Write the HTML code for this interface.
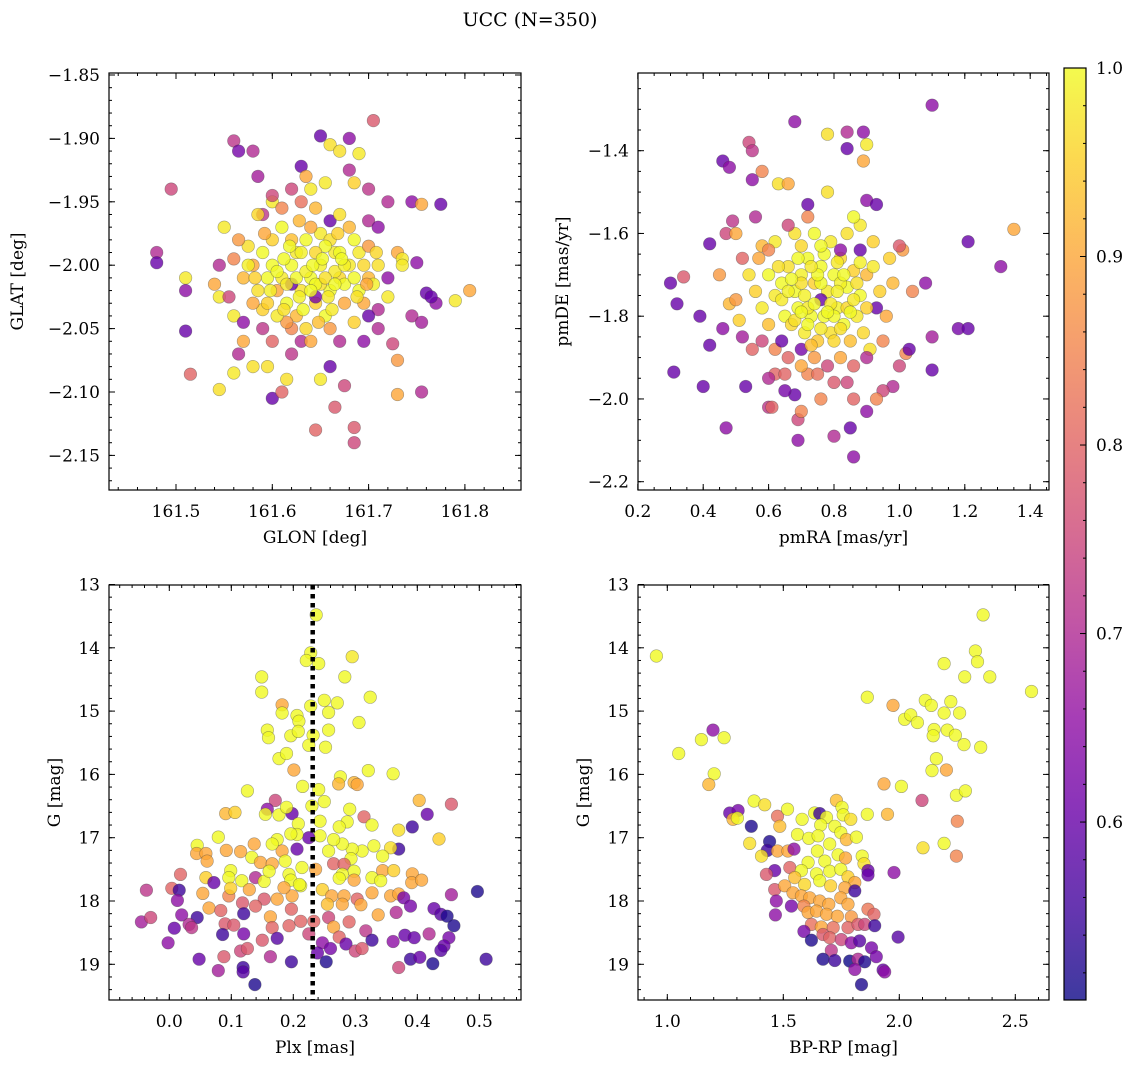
<!DOCTYPE html>
<html><head><meta charset="utf-8"><style>
html,body{margin:0;padding:0;background:#fff}
svg{display:block}
text{font-family:"DejaVu Serif","Liberation Serif",serif;fill:#000}
</style></head><body>
<svg id="fig" width="1136" height="1068" viewBox="0 0 1136 1068" xmlns="http://www.w3.org/2000/svg">
<text x="530" y="26" font-size="19" text-anchor="middle">UCC (N=350)</text>
<defs><linearGradient id="plasmaGrad" x1="0" y1="1" x2="0" y2="0"></linearGradient></defs>
</svg>
<script>
// ---- data ----
const glonGlat = [[161.495,-1.94,0.75],[161.48,-1.99,0.7],[161.48,-1.998,0.6],[161.51,-2.01,0.98],[161.51,-2.052,0.6],[161.51,-2.02,0.65],[161.515,-2.086,0.8],[161.545,-2.098,0.97],[161.56,-1.902,0.72],[161.565,-1.91,0.62],[161.58,-1.91,0.7],[161.54,-2.015,0.9],[161.545,-2.025,0.98],[161.55,-1.97,0.98],[161.56,-2.04,0.98],[161.56,-2.085,0.98],[161.565,-2.07,0.7],[161.58,-2.08,0.97],[161.585,-1.93,0.68],[161.59,-1.96,0.72],[161.58,-2.0,0.9],[161.6,-1.95,0.98],[161.6,-2.105,0.6],[161.61,-2.1,0.8],[161.615,-2.09,0.97],[161.62,-1.94,0.75],[161.63,-1.922,0.6],[161.635,-1.93,0.9],[161.65,-1.898,0.6],[161.66,-1.905,0.97],[161.67,-1.91,0.97],[161.68,-1.9,0.65],[161.69,-1.912,0.98],[161.705,-1.886,0.78],[161.68,-1.925,0.7],[161.685,-1.935,0.95],[161.7,-1.94,0.72],[161.72,-1.95,0.7],[161.745,-1.95,0.65],[161.755,-1.952,0.9],[161.775,-1.952,0.6],[161.65,-1.975,0.98],[161.66,-1.965,0.6],[161.67,-1.96,0.97],[161.64,-1.94,0.98],[161.645,-1.955,0.92],[161.655,-1.935,0.98],[161.73,-1.99,0.9],[161.735,-1.995,0.98],[161.735,-2.0,0.98],[161.75,-1.998,0.65],[161.76,-2.022,0.6],[161.77,-2.03,0.65],[161.765,-2.025,0.6],[161.79,-2.028,0.98],[161.805,-2.02,0.9],[161.72,-2.025,0.98],[161.71,-2.035,0.7],[161.7,-2.04,0.6],[161.695,-2.06,0.65],[161.725,-2.062,0.75],[161.745,-2.04,0.7],[161.755,-2.045,0.68],[161.73,-2.075,0.88],[161.755,-2.1,0.7],[161.73,-2.102,0.9],[161.675,-2.095,0.75],[161.665,-2.112,0.78],[161.685,-2.128,0.78],[161.685,-2.14,0.75],[161.645,-2.13,0.8],[161.65,-2.09,0.98],[161.66,-2.08,0.6],[161.63,-2.06,0.7],[161.62,-2.05,0.85],[161.6,-2.06,0.8],[161.595,-2.08,0.97],[161.57,-2.06,0.9],[161.59,-2.035,0.95],
[161.6,-2.0,1],[161.61,-2.01,0.98],[161.62,-2.0,1],[161.63,-2.02,0.97],[161.64,-2.01,1],[161.65,-2.0,0.99],[161.66,-2.02,1],[161.67,-2.01,0.96],[161.68,-2.0,0.98],[161.69,-2.02,1],[161.7,-2.01,0.92],[161.605,-2.02,0.9],[161.615,-2.03,1],[161.625,-1.99,0.98],[161.635,-1.98,1],[161.645,-2.03,0.95],[161.655,-2.04,1],[161.665,-1.99,0.98],[161.675,-2.03,0.9],[161.685,-1.98,1],[161.595,-2.01,1],[161.585,-2.02,0.97],[161.575,-2.0,0.99],[161.59,-1.99,1],[161.6,-1.98,0.95],[161.61,-1.97,1],[161.62,-1.98,0.93],[161.63,-1.99,0.99],[161.64,-1.97,0.9],[161.66,-1.98,0.97],[161.67,-1.99,1],[161.68,-1.97,0.92],[161.69,-1.99,0.98],[161.7,-1.985,0.88],[161.71,-2.0,0.97],[161.705,-2.015,0.99],[161.695,-2.03,0.9],[161.625,-2.04,0.92],[161.635,-2.05,0.96],[161.615,-2.045,0.88],[161.605,-2.04,0.98],[161.595,-2.03,0.95],[161.58,-2.03,0.9],[161.57,-2.01,0.92],[161.575,-1.985,0.97],[161.565,-1.98,0.88],[161.56,-1.995,0.85],[161.65,-2.015,0.97],[161.655,-1.985,1],[161.645,-1.99,0.96],[161.665,-2.005,0.98],[161.675,-2.015,1],[161.685,-2.045,0.95],[161.66,-2.05,0.88],[161.64,-2.06,0.9],[161.62,-2.07,0.72],[161.67,-2.06,0.7],[161.7,-1.965,0.7],[161.71,-1.97,0.65],[161.61,-1.955,0.85],[161.6,-1.945,0.75],[161.63,-1.95,0.82],[161.585,-1.96,0.96],[161.555,-2.025,0.75],[161.545,-2.0,0.7],[161.71,-2.05,0.7],[161.72,-2.01,0.65],[161.62,-2.015,0.6],[161.645,-2.025,0.62],[161.59,-2.05,0.72],[161.57,-2.045,0.65],
[161.605,-2.005,1],[161.615,-2.015,0.98],[161.625,-2.01,1],[161.635,-2.005,0.99],[161.645,-2.015,1],[161.655,-2.01,0.97],[161.665,-2.015,1],[161.675,-2.0,0.99],[161.685,-2.01,1],[161.695,-2.0,0.96],[161.612,-1.995,1],[161.628,-2.025,0.99],[161.642,-2.0,1],[161.658,-2.025,0.98],[161.672,-1.995,1],[161.688,-2.025,0.97],[161.598,-2.02,0.99],[161.618,-1.985,1],[161.652,-1.995,1],[161.662,-2.035,0.98],[161.632,-2.035,1],[161.612,-2.035,0.97],[161.592,-1.975,0.9],[161.668,-1.975,0.95],[161.648,-2.045,0.93],[161.628,-1.965,0.92],[161.698,-2.015,0.9],[161.582,-2.01,0.95],[161.708,-1.99,0.96],[161.64,-2.02,1]];

const pmraPmde = [[0.3,-1.72,0.6],[0.32,-1.77,0.6],[0.31,-1.935,0.6],[0.34,-1.705,0.78],[0.39,-1.8,0.6],[0.42,-1.625,0.6],[0.42,-1.87,0.6],[0.4,-1.97,0.6],[0.46,-1.425,0.6],[0.47,-1.6,0.75],[0.48,-1.44,0.65],[0.45,-1.7,0.88],[0.46,-1.83,0.65],[0.47,-2.07,0.65],[0.48,-1.77,0.92],[0.49,-1.57,0.72],[0.51,-1.81,0.95],[0.52,-1.85,0.68],[0.53,-1.97,0.6],[0.54,-1.38,0.75],[0.55,-1.4,0.72],[0.55,-1.47,0.65],[0.56,-1.56,0.7],[0.58,-1.45,0.85],[0.58,-1.63,0.92],[0.6,-2.02,0.72],[0.61,-2.02,0.8],[0.62,-1.94,0.8],[0.63,-1.48,0.97],[0.66,-1.48,0.9],[0.68,-1.33,0.65],[0.69,-2.05,0.75],[0.7,-2.03,0.85],[0.69,-2.1,0.65],[0.68,-1.99,0.6],[0.72,-1.53,0.6],[0.78,-1.36,0.97],[0.84,-1.355,0.7],[0.84,-1.395,0.6],[0.89,-1.355,0.65],[0.9,-1.385,0.98],[0.89,-1.425,0.9],[0.9,-1.52,0.65],[0.93,-1.53,0.6],[1.1,-1.29,0.65],[1.21,-1.62,0.6],[1.18,-1.83,0.62],[1.21,-1.83,0.6],[1.31,-1.68,0.65],[1.35,-1.59,0.9],[1.1,-1.93,0.6],[1.1,-1.85,0.68],[1.08,-1.72,0.65],[1.04,-1.74,0.85],[1.01,-1.64,0.88],[1.0,-1.63,0.78],[1.02,-1.89,0.85],[1.03,-1.88,0.6],[1.0,-1.92,0.75],[0.98,-1.97,0.7],[0.95,-1.98,0.75],[0.93,-2.0,0.85],[0.9,-2.03,0.65],[0.86,-2.0,0.8],[0.85,-2.07,0.6],[0.86,-2.14,0.65],[0.8,-2.09,0.7],[0.76,-2.0,0.85],[0.84,-1.96,0.75],[0.72,-1.94,0.85],[0.65,-1.94,0.8],[0.6,-1.95,0.7],
[0.6,-1.7,1],[0.62,-1.75,0.98],[0.64,-1.72,1],[0.66,-1.68,0.97],[0.68,-1.74,1],[0.7,-1.7,0.99],[0.72,-1.66,1],[0.74,-1.72,0.95],[0.76,-1.68,1],[0.78,-1.74,0.98],[0.8,-1.7,1],[0.82,-1.66,0.96],[0.84,-1.73,1],[0.86,-1.69,0.95],[0.88,-1.75,1],[0.9,-1.7,0.92],[0.92,-1.68,0.98],[0.94,-1.74,0.95],[0.65,-1.8,1],[0.67,-1.82,0.96],[0.69,-1.78,1],[0.71,-1.84,0.98],[0.73,-1.8,1],[0.75,-1.86,0.94],[0.77,-1.8,1],[0.79,-1.84,0.97],[0.81,-1.78,0.99],[0.83,-1.82,1],[0.85,-1.86,0.93],[0.87,-1.8,0.98],[0.89,-1.84,0.96],[0.91,-1.88,0.97],[0.6,-1.82,0.93],[0.58,-1.78,0.98],[0.56,-1.74,0.95],[0.54,-1.7,0.97],[0.57,-1.66,0.9],[0.62,-1.62,0.98],[0.68,-1.6,0.97],[0.74,-1.6,1],[0.79,-1.62,0.98],[0.84,-1.6,0.97],[0.88,-1.58,0.98],[0.92,-1.62,0.95],[0.86,-1.56,1],[0.78,-1.5,0.97],[0.72,-1.56,0.85],[0.66,-1.58,0.75],[0.62,-1.88,0.85],[0.66,-1.9,0.8],[0.7,-1.92,0.9],[0.74,-1.9,0.88],[0.78,-1.92,0.75],[0.82,-1.9,0.9],[0.86,-1.92,0.8],[0.9,-1.9,0.7],[0.95,-1.86,0.85],[0.96,-1.8,0.9],[0.98,-1.72,0.92],[0.97,-1.66,0.95],[0.5,-1.76,0.88],[0.52,-1.66,0.8],[0.5,-1.6,0.9],[0.55,-1.88,0.8],[0.58,-1.86,0.75],[0.64,-1.86,0.6],[0.7,-1.88,0.62],[0.76,-1.76,0.6],[0.82,-1.64,0.65],[0.88,-1.64,0.6],[0.93,-1.78,0.6],[0.6,-1.64,0.85],[0.75,-1.94,0.82],[0.8,-1.96,0.78],[0.65,-1.98,0.62],[0.7,-1.72,0.97],[0.76,-1.72,1],[0.82,-1.72,0.99],[0.72,-1.78,0.98],[0.8,-1.8,1],[0.84,-1.78,0.96],[0.64,-1.76,0.98],
[0.67,-1.71,1],[0.71,-1.75,0.99],[0.75,-1.7,1],[0.79,-1.77,0.98],[0.83,-1.7,1],[0.87,-1.72,0.97],[0.69,-1.66,1],[0.73,-1.68,0.98],[0.77,-1.65,1],[0.81,-1.74,0.99],[0.85,-1.79,1],[0.68,-1.81,0.97],[0.72,-1.82,1],[0.76,-1.83,0.98],[0.8,-1.86,0.96],[0.74,-1.77,1],[0.78,-1.79,1],[0.82,-1.83,0.97],[0.66,-1.74,0.99],[0.7,-1.79,1],[0.86,-1.76,0.98],[0.9,-1.78,0.95],[0.63,-1.68,0.97],[0.88,-1.67,0.99],[0.7,-1.63,0.96],[0.76,-1.63,1],[0.81,-1.67,0.98],[0.73,-1.87,0.93]];

const plxG = [[0.237,13.48,1],[0.228,14.08,1],[0.221,14.2,1],[0.241,14.25,1],[0.295,14.14,0.98],[0.283,14.46,1],[0.149,14.46,1],[0.149,14.7,1],[0.182,14.9,0.9],[0.182,15.03,1],[0.206,15.07,1],[0.209,15.16,1],[0.228,14.92,1],[0.25,14.83,1],[0.271,14.87,1],[0.257,15.02,1],[0.324,14.78,1],[0.306,15.18,1],[0.257,15.3,1],[0.158,15.3,1],[0.16,15.42,1],[0.196,15.39,1],[0.208,15.32,1],[0.232,15.38,1],[0.225,15.54,1],[0.252,15.57,1],[0.177,15.75,1],[0.189,15.67,1],[0.201,15.93,0.9],[0.276,16.04,1],[0.273,16.15,0.92],[0.298,16.13,0.92],[0.303,16.16,0.9],[0.321,15.94,1],[0.361,15.99,1],[0.215,16.19,1],[0.241,16.24,1],[0.126,16.26,1],[0.171,16.41,0.75],[0.158,16.55,0.65],[0.198,16.62,0.6],[0.25,16.43,1],[0.23,16.5,1],[0.091,16.62,0.92],[0.106,16.6,0.95],[0.155,16.63,1],[0.177,16.64,1],[0.189,16.52,1],[0.291,16.55,1],[0.314,16.67,0.8],[0.327,16.8,1],[0.287,16.75,1],[0.274,16.83,1],[0.208,16.78,1],[0.243,16.74,1],[0.403,16.41,0.92],[0.455,16.47,0.78],[0.416,16.63,0.6],[0.392,16.83,0.55],[0.37,16.88,0.97],[0.435,17.02,0.95],[0.37,17.18,0.55],[0.357,17.16,0.97],[0.344,17.29,1],[0.33,17.13,1],[0.311,17.21,1],[0.295,17.18,1],[0.279,17.1,1],[0.265,17.03,1],[0.243,16.97,1],[0.225,17.0,0.6],[0.206,16.95,1],[0.196,16.94,1],[0.174,17.03,1],[0.182,17.21,0.9],[0.166,17.1,1],[0.206,17.18,0.6],[0.257,17.21,1],[0.293,17.33,1],[0.079,16.99,1],[0.045,17.12,1],[0.044,17.25,0.9],[0.059,17.25,0.9],[0.061,17.37,0.9],[0.092,17.2,0.9],[0.137,17.1,0.9],[0.115,17.22,0.9],[0.133,17.31,1],[0.147,17.39,0.9],[0.166,17.41,0.9],[0.187,17.37,1],[0.214,17.47,1],[0.236,17.5,0.9],[0.265,17.41,0.8],[0.282,17.42,0.8],[0.298,17.53,1],[0.279,17.58,1],[0.274,17.64,1],[0.298,17.67,0.9],[0.327,17.63,1],[0.344,17.52,0.9],[0.362,17.52,0.95],[0.341,17.68,1],[0.392,17.57,0.9],[0.391,17.71,0.9],[0.407,17.67,0.9],[0.099,17.52,1],[0.096,17.63,1],[0.117,17.68,1],[0.139,17.63,0.7],[0.153,17.69,1],[0.161,17.53,1],[0.193,17.58,1],[0.196,17.67,1],[0.212,17.76,1],[0.059,17.63,0.95],[0.072,17.71,0.6],[0.018,17.58,0.8],[-0.037,17.83,0.72],[0.004,17.8,0.8],[0.016,17.83,0.55],[0.013,17.99,0.65],[0.054,17.88,0.9],[0.096,17.92,0.85],[0.118,18.03,0.78],[0.099,17.8,0.95],[0.129,17.82,0.9],[0.153,17.97,0.78],[0.174,17.97,0.9],[0.198,17.92,0.9],[0.185,17.79,0.9],[0.21,17.74,1],[0.247,17.82,0.95],[0.262,17.92,0.9],[0.282,17.92,0.9],[0.303,17.97,0.8],[0.327,17.87,0.9],[0.357,17.92,0.9],[0.37,17.89,0.9],[0.378,17.95,0.62],[0.389,18.08,0.62],[0.455,17.9,0.68],[0.497,17.85,0.52],[0.064,18.11,0.9],[0.083,18.15,0.8],[0.12,18.2,0.55],[0.139,18.08,0.8],[0.197,18.13,0.8],[0.255,18.05,0.93],[0.279,18.05,0.9],[0.309,18.06,0.9],[0.337,18.22,0.9],[0.366,18.18,0.7],[0.427,18.12,0.6],[0.438,18.21,0.58],[0.448,18.24,0.52],[0.459,18.39,0.52],[-0.045,18.33,0.68],[-0.03,18.26,0.75],[0.02,18.22,0.65],[0.045,18.26,0.55],[0.032,18.37,0.7],[0.008,18.43,0.6],[-0.002,18.66,0.65],[0.036,18.42,0.72],[0.09,18.36,0.78],[0.104,18.38,0.78],[0.086,18.53,0.55],[0.12,18.52,0.62],[0.163,18.25,0.9],[0.166,18.42,0.8],[0.193,18.39,0.8],[0.212,18.32,0.8],[0.233,18.32,0.8],[0.257,18.26,0.75],[0.265,18.41,0.9],[0.29,18.33,0.8],[0.317,18.47,0.72],[0.15,18.62,0.78],[0.174,18.59,0.58],[0.225,18.52,0.75],[0.247,18.66,0.65],[0.274,18.57,0.8],[0.285,18.68,0.6],[0.3,18.79,0.75],[0.311,18.75,0.78],[0.327,18.62,0.55],[0.361,18.64,0.65],[0.38,18.54,0.6],[0.395,18.58,0.6],[0.419,18.52,0.7],[0.451,18.58,0.62],[0.443,18.71,0.6],[0.438,18.78,0.58],[0.239,18.82,0.6],[0.26,18.75,0.62],[0.115,18.79,0.75],[0.126,18.75,0.78],[0.088,18.88,0.78],[0.048,18.92,0.6],[0.163,18.88,0.7],[0.197,18.96,0.55],[0.253,18.96,0.52],[0.37,19.05,0.75],[0.389,18.92,0.55],[0.404,18.89,0.6],[0.425,18.99,0.52],[0.511,18.92,0.55],[0.079,19.1,0.68],[0.119,19.05,0.55],[0.119,19.12,0.58],[0.138,19.32,0.52]];

const bprpG = [[0.953,14.13,1],[1.049,15.67,1],[1.147,15.45,1],[1.197,15.3,0.65],[1.245,15.42,1],[1.202,15.99,1],[1.179,16.16,0.92],[1.374,16.42,1],[1.42,16.48,0.97],[1.269,16.61,0.6],[1.305,16.57,0.62],[1.283,16.71,0.92],[1.302,16.69,1],[1.362,16.82,0.52],[1.475,16.66,0.82],[1.485,16.82,0.93],[1.518,16.55,1],[1.355,17.09,0.97],[1.441,17.06,0.52],[1.431,17.2,0.55],[1.475,17.21,0.9],[1.406,17.29,0.97],[1.52,17.21,0.9],[1.546,17.18,0.65],[1.463,17.52,0.6],[1.427,17.58,0.78],[1.463,17.82,0.78],[1.506,17.76,0.9],[1.528,17.47,0.8],[1.47,18.0,0.65],[1.535,18.08,0.62],[1.466,18.22,0.65],
[1.581,16.71,1],[1.635,16.61,1],[1.657,16.62,0.55],[1.686,16.68,1],[1.729,16.41,0.93],[1.753,16.52,1],[1.758,16.64,1],[1.791,16.71,0.97],[1.661,16.8,1],[1.722,16.82,1],[1.561,16.95,1],[1.61,17.01,1],[1.65,16.97,1],[1.7,17.1,1],[1.748,16.92,1],[1.772,17.03,0.92],[1.815,16.99,1],[1.862,16.63,1],[1.949,16.63,0.92],[1.647,17.21,1],[1.607,17.39,1],[1.679,17.37,1],[1.736,17.27,1],[1.768,17.32,0.9],[1.84,17.29,1],[1.848,17.41,0.97],[1.865,17.52,0.6],[1.865,17.59,0.6],[1.977,17.55,0.65],[1.578,17.52,1],[1.643,17.57,1],[1.7,17.53,1],[1.748,17.5,1],[1.779,17.62,0.95],[1.808,17.71,0.9],[1.549,17.63,0.93],[1.592,17.74,0.96],[1.657,17.68,1],[1.704,17.76,0.95],[1.765,17.79,0.9],[1.808,17.84,0.55],[1.542,17.87,0.9],[1.578,17.92,0.9],[1.614,17.95,0.9],[1.657,18.0,0.9],[1.696,18.05,0.9],[1.748,17.95,0.9],[1.779,18.05,0.9],[1.589,18.08,0.85],[1.607,18.18,0.9],[1.643,18.16,0.9],[1.686,18.21,0.9],[1.733,18.24,0.9],[1.793,18.25,0.88],[1.865,18.13,0.83],[1.891,18.21,0.8],[1.621,18.37,0.82],[1.664,18.41,0.9],[1.715,18.42,0.82],[1.779,18.42,0.8],[1.822,18.37,0.78],[1.851,18.37,0.75],[1.894,18.39,0.55],[1.589,18.48,0.62],[1.621,18.62,0.52],[1.671,18.53,0.78],[1.7,18.58,0.8],[1.75,18.61,0.75],[1.793,18.66,0.65],[1.829,18.63,0.58],[1.88,18.74,0.62],[1.995,18.57,0.58],[1.707,18.78,0.72],[1.671,18.92,0.52],[1.722,18.94,0.55],[1.786,18.95,0.5],[1.822,18.92,0.7],[1.851,18.96,0.52],[1.901,18.88,0.62],[1.808,19.08,0.65],[1.93,19.09,0.6],[1.937,19.12,0.65],[1.837,19.32,0.52],
[1.862,14.78,1],[1.973,14.91,0.9],[2.023,15.13,1],[2.049,15.06,1],[2.078,15.18,1],[2.112,14.83,1],[2.138,14.91,1],[2.193,14.25,1],[2.222,14.85,1],[2.193,15.03,1],[2.26,15.03,1],[2.15,15.29,1],[2.146,15.39,1],[2.207,15.3,1],[2.242,15.38,1],[2.279,15.53,1],[2.351,15.57,1],[2.16,15.75,1],[2.141,15.94,1],[2.203,15.93,0.9],[2.328,14.05,1],[2.337,14.22,1],[2.282,14.46,1],[2.39,14.46,1],[2.361,13.48,1],[2.57,14.69,1],[1.934,16.15,0.9],[2.009,16.19,1],[2.098,16.41,0.75],[2.246,16.33,1],[2.285,16.26,1],[2.25,16.74,0.85],[2.102,17.16,0.97],[2.193,17.09,1],[2.246,17.29,0.85]];

const plxCut = [0.2313];
const cbarTicks = [0.6, 0.7, 0.8, 0.9, 1.0];
const cbarRange = [0.5056, 1.0];

// ---- plasma colormap ----
const plasmaStops = ["#0d0887","#41049d","#6a00a8","#8f0da4","#b12a90","#cc4778","#e16462","#f2844b","#fca636","#fcce25","#f0f921"];
function hex(h){return [1,3,5].map(i=>parseInt(h.substr(i,2),16));}
function plasma(t){
  t=Math.max(0,Math.min(1,t));
  const f=t*10, i=Math.min(9,Math.floor(f)), r=f-i;
  const a=hex(plasmaStops[i]), b=hex(plasmaStops[i+1]);
  return "rgb("+a.map((v,k)=>Math.round(v+(b[k]-v)*r)).join(",")+")";
}
function cnorm(p){return (p-cbarRange[0])/(cbarRange[1]-cbarRange[0]);}

const NS="http://www.w3.org/2000/svg";
const svg=document.getElementById('fig');
function mk(tag,attrs,parent){const e=document.createElementNS(NS,tag);for(const k in attrs)e.setAttribute(k,attrs[k]);(parent||svg).appendChild(e);return e;}
function fmt(v,d){let s=v.toFixed(d);if(s.startsWith("-"))s="\u2212"+s.slice(1);return s;}
const FS=17;

function panel(cfg){
  const g=mk('g',{});
  
  
  const [x0,y0,x1,y1]=cfg.box;
  const pg=mk('g',{},g);
  
  
  cfg.data.forEach(d=>{
    const c=mk('circle',{cx:cfg.sx(d[0]).toFixed(1),cy:cfg.sy(d[1]).toFixed(1),r:6.3,fill:plasma(cnorm(d[2])),'fill-opacity':0.8,stroke:'rgba(60,60,60,0.45)','stroke-width':0.6},pg);
    
    
  });
  if(cfg.extra)cfg.extra(g);
  const fr=mk('rect',{x:x0,y:y0,width:x1-x0,height:y1-y0,fill:'none',stroke:'#000','stroke-width':1.2},g);
  
  
  const tg=mk('g',{stroke:'#000','stroke-width':1},g);
  for(let v=cfg.xminor[0];v<=cfg.xminor[1]+1e-9;v+=cfg.xminor[2]){
    const x=cfg.sx(v); if(x<x0+0.5||x>x1-0.5)continue;
    mk('line',{x1:x,x2:x,y1:y1,y2:y1-3},tg);mk('line',{x1:x,x2:x,y1:y0,y2:y0+3},tg);
  }
  cfg.xmajor.forEach(v=>{
    const x=cfg.sx(v);
    if(x>=x0-0.5&&x<=x1+0.5){mk('line',{x1:x,x2:x,y1:y1,y2:y1-6},tg);mk('line',{x1:x,x2:x,y1:y0,y2:y0+6},tg);}
    const t=mk('text',{x:x,y:y1+27,'font-size':FS,'text-anchor':'middle'},g);t.textContent=fmt(v,cfg.xdec);
    
    
  });
  for(let v=cfg.yminor[0];v<=cfg.yminor[1]+1e-9;v+=cfg.yminor[2]){
    const y=cfg.sy(v); if(y<y0+0.5||y>y1-0.5)continue;
    mk('line',{x1:x0,x2:x0+3,y1:y,y2:y},tg);mk('line',{x1:x1,x2:x1-3,y1:y,y2:y},tg);
  }
  cfg.ymajor.forEach(v=>{
    const y=cfg.sy(v);
    mk('line',{x1:x0,x2:x0+6,y1:y,y2:y},tg);mk('line',{x1:x1,x2:x1-6,y1:y,y2:y},tg);
    const t=mk('text',{x:x0-9,y:y+6,'font-size':FS,'text-anchor':'end'},g);t.textContent=fmt(v,cfg.ydec);
    
    
  });
  const xl=mk('text',{x:(x0+x1)/2,y:y1+53,'font-size':FS,'text-anchor':'middle'},g);xl.textContent=cfg.xlabel;
  
  
  const yl=mk('text',{x:0,y:0,'font-size':FS,'text-anchor':'middle',transform:`translate(${cfg.ylx},${(y0+y1)/2}) rotate(-90)`},g);yl.textContent=cfg.ylabel;
  
  
}

panel({name:'glon-glat-panel',box:[109,73,521,490],data:glonGlat,
  sx:v=>176+(v-161.5)*963, sy:v=>75+(-1.85-v)*1268,
  xmajor:[161.5,161.6,161.7,161.8],xminor:[161.42,161.86,0.02],xdec:1,
  ymajor:[-1.85,-1.9,-1.95,-2.0,-2.05,-2.1,-2.15],yminor:[-2.18,-1.84,0.01],ydec:2,
  xlabel:'GLON [deg]',ylabel:'GLAT [deg]',ylx:23});
panel({name:'pmra-pmde-panel',box:[638,73,1049,490],data:pmraPmde,
  sx:v=>637.8+(v-0.2)*327, sy:v=>150.7+(-1.4-v)*413.75,
  xmajor:[0.2,0.4,0.6,0.8,1.0,1.2,1.4],xminor:[0.2,1.45,0.05],xdec:1,
  ymajor:[-1.4,-1.6,-1.8,-2.0,-2.2],yminor:[-2.2,-1.2,0.05],ydec:1,
  xlabel:'pmRA [mas/yr]',ylabel:'pmDE [mas/yr]',ylx:568});
panel({name:'plx-g-panel',box:[109,585,521,1000],data:plxG,
  sx:v=>169.3+v*620, sy:v=>584.5+(v-13)*63.3,
  xmajor:[0.0,0.1,0.2,0.3,0.4,0.5],xminor:[-0.1,0.56,0.02],xdec:1,
  ymajor:[13,14,15,16,17,18,19],yminor:[13,19.6,0.2],ydec:0,
  xlabel:'Plx [mas]',ylabel:'G [mag]',ylx:60,
  extra:(g)=>{plxCut.forEach(v=>{const x=169.3+v*620;
    const l=mk('line',{x1:x,x2:x,y1:585,y2:1000,stroke:'#000','stroke-width':4.5,'stroke-dasharray':'4.5 4.5'},g);
    
    });}});
panel({name:'bprp-g-panel',box:[638,585,1049,1000],data:bprpG,
  sx:v=>667.3+(v-1)*232, sy:v=>584.5+(v-13)*63.3,
  xmajor:[1.0,1.5,2.0,2.5],xminor:[0.9,2.6,0.1],xdec:1,
  ymajor:[13,14,15,16,17,18,19],yminor:[13,19.6,0.2],ydec:0,
  xlabel:'BP-RP [mag]',ylabel:'G [mag]',ylx:589});

// colorbar
const grad=document.getElementById('plasmaGrad');
plasmaStops.forEach((c,i)=>mk('stop',{offset:(i/10),'stop-color':c},grad));
const cb=mk('g',{});


const cbTop=68, cbBot=1000, cbL=1064, cbR=1086;
mk('rect',{x:cbL,y:cbTop,width:cbR-cbL,height:cbBot-cbTop,fill:'url(#plasmaGrad)','fill-opacity':0.8},cb);
mk('rect',{x:cbL,y:cbTop,width:cbR-cbL,height:cbBot-cbTop,fill:'none',stroke:'#000','stroke-width':1.2},cb);
const cy=v=>cbBot-(v-cbarRange[0])/(cbarRange[1]-cbarRange[0])*(cbBot-cbTop);
for(let v=0.52;v<1.0;v+=0.02){const y=cy(v);mk('line',{x1:cbR,x2:cbR-3,y1:y,y2:y,stroke:'#000'},cb);}
cbarTicks.forEach(v=>{const y=cy(v);
  mk('line',{x1:cbR,x2:cbR-6,y1:y,y2:y,stroke:'#000'},cb);
  const t=mk('text',{x:cbR+10,y:y+6,'font-size':FS},cb);t.textContent=v.toFixed(1);
  
  
});
</script>
</body></html>
